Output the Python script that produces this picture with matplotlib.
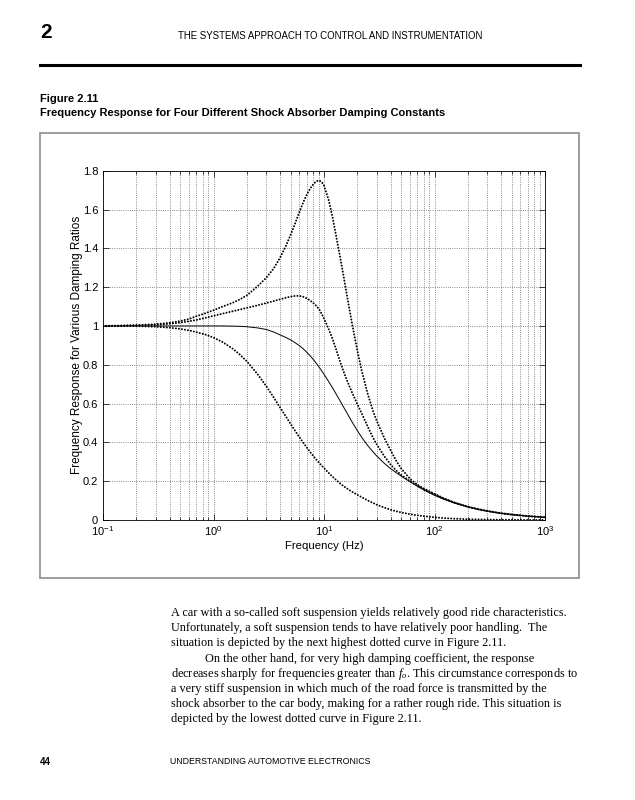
import matplotlib
matplotlib.use('Agg')
import matplotlib.pyplot as plt
from matplotlib.lines import Line2D
from matplotlib.patches import Rectangle
from matplotlib.ticker import LogLocator, NullFormatter

plt.rcParams['font.family'] = ['Liberation Sans', 'DejaVu Sans']
plt.rcParams['mathtext.fontset'] = 'custom'
plt.rcParams['mathtext.rm'] = 'Liberation Sans'
plt.rcParams['mathtext.it'] = 'Liberation Serif:italic'

# values
freq = [0.1, 0.15, 0.2, 0.3, 0.4, 0.5, 0.6, 0.7, 0.85, 1, 1.2, 1.5, 1.75, 2, 2.5, 3, 3.5, 4,
        4.5, 5, 5.5, 6, 6.5, 7, 7.5, 8, 8.5, 9, 9.5, 10, 11, 12, 13, 14, 15, 16, 17, 18, 20,
        22, 25, 28, 30, 35, 40, 45, 50, 60, 70, 80, 100, 120, 150, 200, 250, 300, 400, 500,
        700, 1000]

# lowest damping (highest peak)
resp_soft = [1.000, 1.002, 1.004, 1.009, 1.016, 1.025, 1.036, 1.050, 1.066, 1.081, 1.099, 1.120,
             1.138, 1.157, 1.204, 1.248, 1.296, 1.351, 1.410, 1.471, 1.531, 1.588, 1.638, 1.678,
             1.708, 1.730, 1.745, 1.750, 1.743, 1.723, 1.651, 1.555, 1.452, 1.354, 1.260, 1.169,
             1.085, 1.008, 0.875, 0.767, 0.645, 0.556, 0.511, 0.424, 0.360, 0.305, 0.265, 0.212,
             0.182, 0.162, 0.135, 0.113, 0.091, 0.069, 0.056, 0.047, 0.035, 0.028, 0.020, 0.014]

resp_medium = [1.000, 1.001, 1.003, 1.006, 1.011, 1.017, 1.024, 1.031, 1.042, 1.052, 1.063, 1.076,
               1.085, 1.093, 1.106, 1.118, 1.128, 1.137, 1.145, 1.151, 1.155, 1.155, 1.150, 1.142,
               1.131, 1.118, 1.104, 1.087, 1.064, 1.038, 0.985, 0.930, 0.872, 0.815, 0.767, 0.725,
               0.689, 0.655, 0.598, 0.548, 0.478, 0.420, 0.390, 0.330, 0.286, 0.255, 0.232, 0.200,
               0.176, 0.158, 0.131, 0.111, 0.090, 0.068, 0.055, 0.046, 0.035, 0.028, 0.020, 0.014]

# solid curve
resp_firm = [1.000, 1.000, 1.000, 1.000, 1.000, 1.000, 1.000, 1.000, 1.000, 1.000, 1.000, 0.999,
             0.998, 0.996, 0.990, 0.982, 0.969, 0.954, 0.941, 0.928, 0.913, 0.898, 0.882, 0.864,
             0.846, 0.827, 0.808, 0.789, 0.770, 0.751, 0.714, 0.679, 0.645, 0.613, 0.583, 0.555,
             0.529, 0.504, 0.461, 0.425, 0.382, 0.349, 0.330, 0.293, 0.265, 0.244, 0.226, 0.197,
             0.174, 0.155, 0.127, 0.108, 0.088, 0.067, 0.054, 0.045, 0.034, 0.028, 0.020, 0.014]

# highest damping
resp_stiff = [1.000, 1.000, 0.999, 0.996, 0.991, 0.985, 0.977, 0.968, 0.955, 0.940, 0.918, 0.882,
              0.850, 0.818, 0.752, 0.690, 0.632, 0.580, 0.535, 0.494, 0.458, 0.426, 0.398, 0.373,
              0.350, 0.330, 0.312, 0.296, 0.281, 0.268, 0.243, 0.222, 0.204, 0.188, 0.175, 0.164,
              0.154, 0.145, 0.130, 0.117, 0.100, 0.087, 0.079, 0.064, 0.053, 0.045, 0.039, 0.030,
              0.024, 0.020, 0.014, 0.010, 0.007, 0.004, 0.003, 0.002, 0.001, 0.001, 0.000, 0.000]

y_ticks = [0, 0.2, 0.4, 0.6, 0.8, 1.0, 1.2, 1.4, 1.6, 1.8]
y_labels = ['0', '0.2', '0.4', '0.6', '0.8', '1', '1.2', '1.4', '1.6', '1.8']
x_ticks = [0.1, 1, 10, 100, 1000]
x_labels = ['$10^{-1}$', '$10^{0}$', '$10^{1}$', '$10^{2}$', '$10^{3}$']

body_lines = [
    'A car with a so-called soft suspension yields relatively good ride characteristics.',
    'Unfortunately, a soft suspension tends to have relatively poor handling.  The',
    'situation is depicted by the next highest dotted curve in Figure 2.11.',
    'On the other hand, for very high damping coefficient, the response',
    'decreases sharply for frequencies greater than $f_o$. This circumstance corresponds to',
    'a very stiff suspension in which much of the road force is transmitted by the',
    'shock absorber to the car body, making for a rather rough ride. This situation is',
    'depicted by the lowest dotted curve in Figure 2.11.',
]

W, H = 635, 800


def px(x, y):
    return x / W, 1 - y / H


fig = plt.figure(figsize=(W / 100, H / 100), dpi=100)

# page header
fig.text(*px(40, 33), '2', fontsize=15, fontweight='bold', va='center', ha='left')
fig.text(*px(330, 36), 'THE SYSTEMS APPROACH TO CONTROL AND INSTRUMENTATION',
         fontsize=6.9, va='center', ha='center')
fig.add_artist(Line2D([40 / W, 580 / W], [1 - 65 / H] * 2, color='black', lw=2.2))

fig.text(*px(40, 99), 'Figure 2.11', fontsize=8, fontweight='bold', va='center')
fig.text(*px(40, 113), 'Frequency Response for Four Different Shock Absorber Damping Constants',
         fontsize=8, fontweight='bold', va='center')

fig.add_artist(Rectangle(px(40, 578), 539 / W, 445 / H, transform=fig.transFigure,
                         fill=False, edgecolor='0.55', linewidth=1.2))

# the chart
ax = fig.add_axes([103 / W, 1 - 520 / H, 442 / W, (520 - 170.7) / H])
ax.set_xscale('log')

dots = dict(color='black', linestyle=(0, (0.01, 1.5)), linewidth=1.45, dash_capstyle='round')
ax.plot(freq, resp_soft, **dots)
ax.plot(freq, resp_medium, **dots)
ax.plot(freq, resp_firm, color='black', linewidth=0.7)
ax.plot(freq, resp_stiff, **dots)

ax.set_xlim(0.1, 1000)
ax.set_ylim(0, 1.8)
ax.set_yticks(y_ticks, y_labels)
ax.set_xticks(x_ticks, x_labels)
ax.xaxis.set_minor_locator(LogLocator(base=10, subs=range(2, 10), numticks=20))
ax.xaxis.set_minor_formatter(NullFormatter())

ax.grid(True, which='major', linestyle=':', linewidth=0.6, color='0.4')
ax.grid(True, which='minor', axis='x', linestyle=':', linewidth=0.6, color='0.4')
ax.tick_params(which='both', direction='in', top=True, right=True, width=0.5, labelsize=8)
ax.tick_params(which='major', length=4)
ax.tick_params(which='minor', length=2)
for s in ax.spines.values():
    s.set_linewidth(0.6)

ax.set_xlabel('Frequency (Hz)', fontsize=8.2, labelpad=2)
ax.set_ylabel('Frequency Response for Various Damping Ratios', fontsize=8.5, labelpad=0)

# body text
y0 = 613
for i, line in enumerate(body_lines):
    x = 205 if i == 3 else 171
    fig.text(*px(x, y0 + i * 15.2), line, fontsize=8.8, family='Liberation Serif', va='center')

# footer
fig.text(*px(40, 762), '44', fontsize=7, fontweight='bold', va='center')
fig.text(*px(170, 762), 'UNDERSTANDING AUTOMOTIVE ELECTRONICS', fontsize=6.3, va='center')

fig.savefig('out.png', dpi=100)
